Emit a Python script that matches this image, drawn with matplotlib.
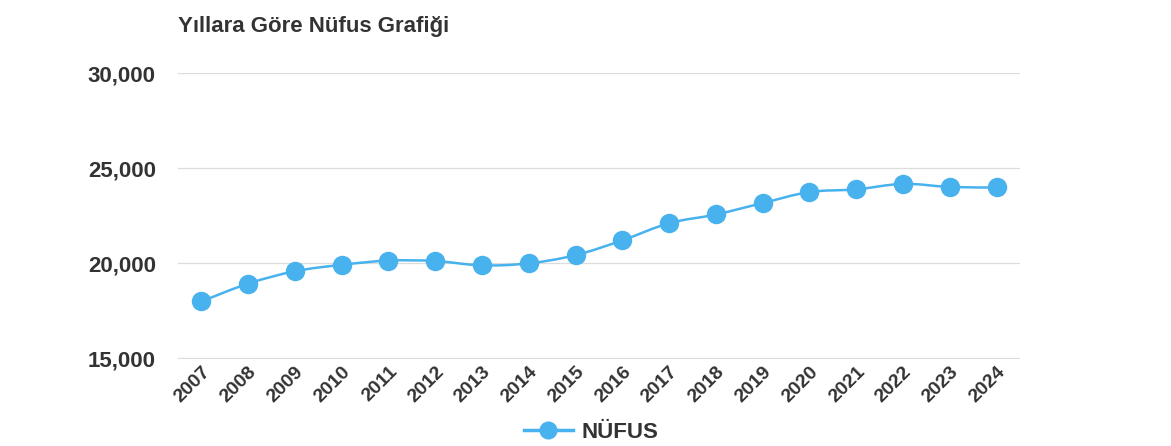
import numpy as np
import matplotlib.pyplot as plt
from matplotlib.path import Path
from matplotlib.patches import PathPatch
from matplotlib.lines import Line2D

plt.rcParams['font.family'] = ['Liberation Sans', 'DejaVu Sans']

years = ['2007', '2008', '2009', '2010', '2011', '2012', '2013', '2014', '2015',
         '2016', '2017', '2018', '2019', '2020', '2021', '2022', '2023', '2024']
nufus = [17980, 18920, 19570, 19910, 20130, 20110, 19880, 19990, 20420,
         21200, 22100, 22560, 23160, 23740, 23880, 24170, 24010, 23980]

color = '#48b2ee'
text_color = '#333333'

fig = plt.figure(figsize=(11.71, 4.46), dpi=100)
ax = fig.add_axes([0.152, 0.195, 0.719, 0.641])

x = np.arange(len(years))
y = np.array(nufus, dtype=float)

# smooth curve through the points (Catmull-Rom as cubic bezier)
verts = [(x[0], y[0])]
codes = [Path.MOVETO]
t = 0.35
for i in range(len(x) - 1):
    p0 = (x[i - 1], y[i - 1]) if i > 0 else (x[i], y[i])
    p1 = (x[i], y[i])
    p2 = (x[i + 1], y[i + 1])
    p3 = (x[i + 2], y[i + 2]) if i + 2 < len(x) else p2
    c1 = (p1[0] + (p2[0] - p0[0]) * t / 2, p1[1] + (p2[1] - p0[1]) * t / 2)
    c2 = (p2[0] - (p3[0] - p1[0]) * t / 2, p2[1] - (p3[1] - p1[1]) * t / 2)
    verts += [c1, c2, p2]
    codes += [Path.CURVE4] * 3
ax.add_patch(PathPatch(Path(verts, codes), facecolor='none', edgecolor=color,
                       lw=1.8, zorder=3))
ax.plot(x, y, linestyle='none', marker='o', markersize=13, color=color, zorder=4)

ax.set_xlim(-0.5, len(years) - 0.5)
ax.set_ylim(14950, 30000)
ax.set_yticks([15000, 20000, 25000, 30000])
ax.set_yticklabels([f'{v:,}' for v in [15000, 20000, 25000, 30000]],
                   fontsize=16, fontweight='bold', color=text_color)
ax.set_xticks(x)
ax.set_xticklabels(years, rotation=45, ha='right', rotation_mode='anchor',
                   fontsize=14, fontweight='bold', color=text_color)
ax.tick_params(length=0, axis='y', pad=16)
ax.tick_params(length=0, axis='x', pad=3)
ax.grid(axis='y', color='#dcdcdc', lw=0.9)
ax.set_axisbelow(True)
for s in ax.spines.values():
    s.set_visible(False)

fig.text(0.152, 0.94, 'Yıllara Göre Nüfus Grafiği', fontsize=16,
         fontweight='bold', color=text_color, va='center')

handle = Line2D([], [], color=color, lw=2.5, marker='o', markersize=12)
fig.legend([handle], ['NÜFUS'], loc='center', bbox_to_anchor=(0.505, 0.03),
           frameon=False, prop={'size': 16, 'weight': 'bold'},
           handlelength=2.2, handletextpad=0.4, labelcolor=text_color)

fig.savefig('out.png', dpi=100, facecolor='white')
